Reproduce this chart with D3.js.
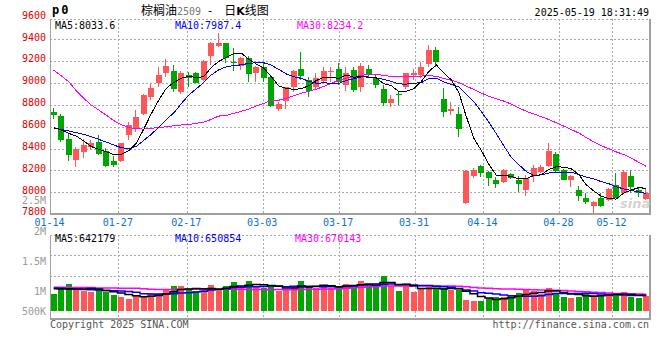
<!DOCTYPE html>
<html><head><meta charset="utf-8">
<script src="https://cdn.jsdelivr.net/npm/d3@7"></script>
<style>
html,body{margin:0;padding:0;background:#fff;}
svg{display:block;}
.mono{font-family:"DejaVu Sans Mono","Liberation Mono",monospace;font-size:10px;}
</style></head>
<body><svg id="c" width="660" height="360"></svg>
<script>
// ---------- DATA ----------
const dates = ["01-14","01-15","01-16","01-17","01-20","01-21","01-22","01-23","01-24","01-27",
"02-05","02-06","02-07","02-10","02-11","02-12","02-13","02-14","02-17","02-18",
"02-19","02-20","02-21","02-24","02-25","02-26","02-27","02-28","03-03","03-04",
"03-05","03-06","03-07","03-10","03-11","03-12","03-13","03-14","03-17","03-18",
"03-19","03-20","03-21","03-24","03-25","03-26","03-27","03-28","03-31","04-01",
"04-02","04-03","04-07","04-08","04-09","04-10","04-11","04-14","04-15","04-16",
"04-17","04-18","04-21","04-22","04-23","04-24","04-25","04-28","04-29","04-30",
"05-06","05-07","05-08","05-09","05-12","05-13","05-14","05-15","05-16","05-19"];
const openP = [8738,8698,8488,8296,8372,8412,8463,8378,8287,8289,
8525,8577,8717,8875,9004,9095,9110,8921,9074,9089,
9028,9247,9339,9363,9193,9156,9226,9089,9150,9058,
8763,8839,8967,9129,9028,8961,9022,9101,9129,8982,
9119,8961,9129,9043,8945,8814,8897,8961,9077,9074,
9171,9302,8854,8741,8717,7900,8153,8244,8189,8113,
8095,8168,8113,8021,8153,8189,8244,8351,8204,8113,
8021,7951,7878,7945,7930,8067,7991,8150,8021,7939];
const highP = [8768,8717,8540,8418,8485,8479,8524,8402,8332,8454,
8647,8753,8900,8997,9144,9220,9165,9110,9104,9104,
9211,9379,9455,9370,9318,9241,9247,9156,9180,9058,
8830,8967,9119,9287,9058,9095,9144,9150,9180,9144,
9144,9180,9165,9074,8982,8891,8930,9095,9125,9196,
9348,9333,8952,8830,8778,8204,8226,8250,8195,8144,
8210,8180,8150,8159,8250,8250,8448,8366,8211,8159,
8061,7991,7921,7991,8037,8174,8204,8204,8052,8037];
const lowP = [8668,8464,8290,8235,8311,8393,8345,8229,8229,8280,
8479,8555,8708,8845,8961,9052,8921,8897,8967,8997,
9022,9165,9333,9180,9113,9119,9013,9013,9013,8784,
8747,8763,8921,9028,8875,8936,9013,9013,8982,8930,
8921,8921,9043,8952,8790,8778,8799,8942,9028,9043,
9144,9150,8692,8708,8509,7895,8128,8144,8061,8043,
8083,8119,8006,7970,8092,8174,8235,8189,8116,8052,
7924,7893,7814,7869,7924,7945,7985,7991,7960,7930];
const closeP = [8707,8479,8342,8393,8433,8448,8351,8241,8250,8448,
8616,8686,8891,8952,9074,9156,8949,9089,9049,9004,
9202,9370,9363,9232,9180,9232,9080,9150,9043,8790,
8808,8961,9113,9068,8930,9043,9113,9113,9013,9089,
8936,9156,9080,8982,8814,8851,8887,9095,9089,9150,
9302,9195,8738,8762,8582,8198,8204,8174,8134,8076,
8204,8134,8073,8134,8226,8235,8378,8198,8116,8150,
7970,7915,7915,7878,8034,7951,8189,8052,7991,7997];
const volume = [718000,966000,1132000,911000,828000,800000,883000,800000,662000,580000,
497000,635000,580000,745000,745000,883000,1035000,1049000,856000,828000,
856000,1090000,883000,1035000,1201000,966000,1242000,1035000,966000,1076000,
828000,856000,1035000,1242000,994000,966000,1076000,966000,1035000,1118000,
1076000,1242000,1118000,1035000,1449000,1035000,828000,1118000,787000,911000,
994000,923000,965000,857000,882000,455000,414000,414000,538000,580000,
567000,621000,745000,911000,828000,716000,952000,758000,580000,538000,
580000,716000,650000,675000,675000,675000,787000,592000,538000,621000];
// moving-average values before enough history exists
const ma5Head  = [8591,8570,8540,8515];
const ma10Head = [8588,8576,8561,8546,8530,8509,8485,8460,8433];
const ma30Head = [9119,9067,9012,8930,8860,8799,8753,8707,8656,8619,8594,8582,8579,8585,8594,
8600,8610,8616,8622,8631,8643,8668,8698,8704,8723,8741,8762,8790,8814];
const vma5Head  = [920000,915000,912000,910000];
const vma10Head = [950000,940000,925000,910000,895000,880000,865000,850000,838000];
const vma30Head = [980000,980000,978000,976000,974000,970000,955000,950000,948000,946000,945000,944000,
925000,905000,895000,893000,893000,895000,897000,900000,900000,902000,903000,903000,900000,897000,893000,890000,887000];
const priceTicks = [9600,9400,9200,9000,8800,8600,8400,8200,8000,7800];
const priceGrid = [9400,9200,9000,8800,8600,8400,8200,8000];
const volTicks = [2500000,2000000,1500000,1000000,500000];
const volTickLabels = ["2.5M","2M","1.5M","1M","500K"];
const dateTicks = ["01-14","01-27","02-17","03-03","03-17","03-31","04-14","04-28","05-12"];
const maLabels = {p5:"MA5:8033.6",p10:"MA10:7987.4",p30:"MA30:8234.2",v5:"MA5:642179",v10:"MA10:650854",v30:"MA30:670143"};
const titleName = "棕榈油", titleCode = "2509", stamp = "2025-05-19 18:31:49";

// ---------- HELPERS ----------
function movingAvg(arr, n, head){
  return arr.map((v,i)=> i < n-1 ? head[i] : d3.mean(arr.slice(i-n+1,i+1)));
}
const ma5 = movingAvg(closeP,5,ma5Head), ma10 = movingAvg(closeP,10,ma10Head), ma30 = movingAvg(closeP,30,ma30Head);
const vma5 = movingAvg(volume,5,vma5Head), vma10 = movingAvg(volume,10,vma10Head), vma30 = movingAvg(volume,30,vma30Head);

const RED="#ff5757", GREEN="#00a600", GRID="#a8a8a8", FRAME="#a0a0a0";
const svg = d3.select("#c");
const idx = d3.range(dates.length);
const x = d3.scaleBand().domain(idx).range([50,650]).paddingInner(0.2).paddingOuter(0.1);
const xTick = d3.scaleLinear().domain([0,dates.length-1]).range([50,650]);
const y = d3.scaleLinear().domain([7800,9600]).range([214.2,17.5]);
const yV = d3.scaleLinear().domain([0,1000000]).range([311,286.85]);
const yVLabel = d3.scaleLinear().domain([500000,1000000,1500000,2000000,2500000]).range([311,291,261.3,231,200.7]);
const volGrid = d3.scaleLinear().domain([0,4]).range([234.5,317]);
const bx = i => Math.round(x(i));
const cx = i => x(i)+x.bandwidth()/2;
const up = i => closeP[i] >= openP[i];

const PT=19, PB=213.5, VT=234.5, VB=319;

// ---------- GRID ----------
const g = svg.append("g").attr("shape-rendering","crispEdges");
g.selectAll(".hg").data(priceGrid).join("line")
  .attr("x1",50).attr("x2",649).attr("y1",d=>Math.round(y(d))+0.5).attr("y2",d=>Math.round(y(d))+0.5)
  .attr("stroke",GRID).attr("stroke-dasharray","2,2");
g.selectAll(".vg").data([1,2]).join("line")
  .attr("x1",50).attr("x2",649).attr("y1",d=>Math.round(volGrid(d))+0.5).attr("y2",d=>Math.round(volGrid(d))+0.5)
  .attr("stroke",GRID).attr("stroke-dasharray","2,2");
const tickIdx = dateTicks.map(t=>dates.indexOf(t));
[[PT,PB],[VT,VB]].forEach(([t,b])=>{
  g.append("g").selectAll("line").data(tickIdx.slice(1)).join("line")
    .attr("x1",d=>Math.round(xTick(d))+0.5).attr("x2",d=>Math.round(xTick(d))+0.5)
    .attr("y1",t).attr("y2",b).attr("stroke",GRID).attr("stroke-dasharray","2,2");
});
// frames
[[PT,PB],[VT,VB]].forEach(([t,b])=>{
  g.append("line").attr("x1",50).attr("x2",650).attr("y1",t+0.5).attr("y2",t+0.5).attr("stroke",GRID).attr("stroke-dasharray","2,2");
  g.append("line").attr("x1",50.5).attr("x2",50.5).attr("y1",t).attr("y2",b).attr("stroke",FRAME);
  g.append("line").attr("x1",649.5).attr("x2",649.5).attr("y1",t).attr("y2",b+1).attr("stroke",FRAME).attr("stroke-width",2);
  g.append("line").attr("x1",50).attr("x2",650.5).attr("y1",b).attr("y2",b).attr("stroke",FRAME).attr("stroke-width",2);
});

// ---------- CANDLES ----------
const cg = svg.append("g").attr("shape-rendering","crispEdges");
cg.selectAll(".wick").data(idx).join("rect")
  .attr("x",i=>bx(i)+2).attr("width",1)
  .attr("y",i=>Math.round(y(highP[i])))
  .attr("height",i=>Math.max(1,Math.round(y(lowP[i]))-Math.round(y(highP[i]))))
  .attr("fill",i=>up(i)?RED:GREEN);
cg.selectAll(".body").data(idx).join("rect")
  .attr("x",bx).attr("width",Math.round(x.bandwidth()))
  .attr("y",i=>Math.round(y(Math.max(openP[i],closeP[i]))))
  .attr("height",i=>Math.max(1,Math.round(y(Math.min(openP[i],closeP[i])))-Math.round(y(Math.max(openP[i],closeP[i])))))
  .attr("fill",i=>up(i)?RED:GREEN);

// watermark
svg.append("text").attr("x",620).attr("y",208).attr("font-family","DejaVu Sans").attr("font-style","italic")
  .attr("font-weight","bold").attr("font-size",13).attr("fill","#d4d4d4").text("sina");

// price MAs
const pl = d3.line().x((d,i)=>cx(i)).y(d=>y(d));
[[ma30,"#ff00ff"],[ma10,"#0000ff"],[ma5,"#000000"]].forEach(([arr,c])=>{
  svg.append("path").datum(arr).attr("d",pl).attr("fill","none").attr("stroke",c).attr("stroke-width",1)
    .attr("shape-rendering","crispEdges");
});

// ---------- VOLUME ----------
const vg = svg.append("g").attr("shape-rendering","crispEdges");
vg.selectAll("rect").data(idx).join("rect")
  .attr("x",bx).attr("width",Math.round(x.bandwidth()))
  .attr("y",i=>Math.round(yV(volume[i])))
  .attr("height",i=>Math.round(yV(0))-Math.round(yV(volume[i])))
  .attr("fill",i=>up(i)?RED:GREEN);
const vl = d3.line().x((d,i)=>cx(i)).y(d=>yV(d)).curve(d3.curveStep);
[[vma30,"#ff00ff"],[vma10,"#0000ff"],[vma5,"#000000"]].forEach(([arr,c])=>{
  svg.append("path").datum(arr).attr("d",vl).attr("fill","none").attr("stroke",c).attr("stroke-width",1.5);
});

// ---------- AXES / TEXT ----------
const ya = svg.append("g").attr("transform","translate(50,0)")
  .call(d3.axisLeft(y).tickValues(priceTicks).tickSize(0).tickPadding(4).tickFormat(d3.format("d")));
ya.select(".domain").remove();
ya.selectAll("text").attr("class","mono").attr("font-family",null).attr("font-size",null)
  .attr("fill","#e00000").attr("dy","0.32em").attr("transform","translate(0,-2.5)");

const va = svg.append("g").attr("transform","translate(50,0)")
  .call(d3.axisLeft(yVLabel).tickValues(volTicks).tickSize(0).tickPadding(4).tickFormat((d,i)=>volTickLabels[i]));
va.select(".domain").remove();
va.selectAll("text").attr("class","mono").attr("font-family",null).attr("font-size",null).attr("fill","#9a9a9a");

const xa = svg.append("g").attr("transform","translate(0,218.5)")
  .call(d3.axisBottom(xTick).tickValues(tickIdx).tickSize(0).tickPadding(0).tickFormat(i=>dates[i]));
xa.select(".domain").remove();
xa.selectAll("text").attr("class","mono").attr("font-family",null).attr("font-size",null).attr("fill","#0a72d0")
  .attr("dy","0.71em").attr("transform","translate(-1,0)");

function t(xp,yp,str,fill,anchor){
  return svg.append("text").attr("class","mono").attr("x",xp).attr("y",yp).attr("fill",fill)
    .attr("text-anchor",anchor||"start").text(str);
}
t(55,28.5,maLabels.p5,"#000");
t(175,28.5,maLabels.p10,"#0000ff");
t(297,28.5,maLabels.p30,"#ff00ff");
t(55,241.5,maLabels.v5,"#000");
t(175,241.5,maLabels.v10,"#0000ff");
t(295,241.5,maLabels.v30,"#ff00ff");
t(50,328,"Copyright 2025 SINA.COM","#555");
t(649,328,"http://finance.sina.com.cn","#555","end");
t(649,16,stamp,"#000","end");

svg.append("text").attr("x",52).attr("y",14).attr("font-family","DejaVu Sans Mono").attr("font-weight","bold")
  .attr("font-size",12).attr("letter-spacing",2).attr("fill","#000").text("p0");
const title = svg.append("text").attr("x",141).attr("y",14.5).attr("font-family","'Noto Sans CJK SC'").attr("font-size",12).attr("fill","#000");
title.append("tspan").text(titleName);
title.append("tspan").attr("font-family","DejaVu Sans Mono").attr("font-size",10).attr("fill","#777").text(titleCode);
title.append("tspan").attr("dx",7).text("-");
title.append("tspan").attr("dx",12).text("日");
title.append("tspan").attr("font-family","DejaVu Sans").attr("font-weight","bold").attr("font-size",11).text("K");
title.append("tspan").text("线图");
</script>
</body></html>
